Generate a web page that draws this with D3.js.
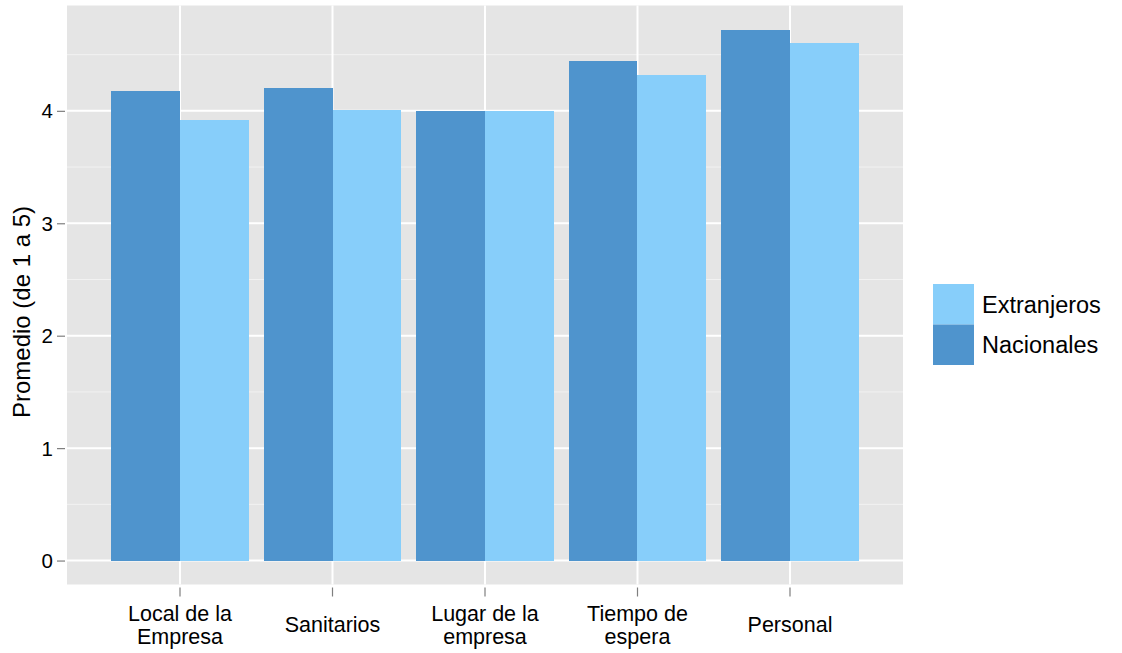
<!DOCTYPE html>
<html>
<head>
<meta charset="utf-8">
<script src="https://cdn.jsdelivr.net/npm/d3@7"></script>
<style>
  html, body { margin: 0; padding: 0; background: #fff; }
  svg { display: block; font-family: "Liberation Sans", Arial, Helvetica, sans-serif; }
</style>
</head>
<body>
<svg id="chart" width="1122" height="653"></svg>
<script>
// ---- data ----
const categories = [["Local de la", "Empresa"], ["Sanitarios"], ["Lugar de la", "empresa"], ["Tiempo de", "espera"], ["Personal"]];
const categoryKeys = ["Local de la Empresa", "Sanitarios", "Lugar de la empresa", "Tiempo de espera", "Personal"];
const seriesNames = ["Nacionales", "Extranjeros"];
const nacionales = [4.18, 4.20, 4.00, 4.44, 4.72];
const extranjeros = [3.92, 4.01, 4.00, 4.32, 4.60];
const yTicks = [0, 1, 2, 3, 4];
const yMinor = [0.5, 1.5, 2.5, 3.5, 4.5];
const legendOrder = ["Extranjeros", "Nacionales"];
const colors = { "Nacionales": "#4F94CD", "Extranjeros": "#87CEFA" };

// ---- layout ----
const panel = { left: 67, right: 903, top: 5.5, bottom: 584.5 };
const svg = d3.select("#chart");

const x = d3.scaleBand()
  .domain(categoryKeys)
  .range([panel.left, panel.right])
  .paddingInner(0.1)
  .paddingOuter(0.291);

const xSub = d3.scaleBand().domain(seriesNames).range([0, x.bandwidth()]).padding(0);

const y = d3.scaleLinear().domain([-0.213, 4.937]).range([panel.bottom, panel.top]);

// panel background
svg.append("rect")
  .attr("x", panel.left).attr("y", panel.top)
  .attr("width", panel.right - panel.left).attr("height", panel.bottom - panel.top)
  .attr("fill", "#E5E5E5");

// minor grid
svg.append("g").selectAll("line").data(yMinor).join("line")
  .attr("x1", panel.left).attr("x2", panel.right)
  .attr("y1", d => y(d)).attr("y2", d => y(d))
  .attr("stroke", "#F2F2F2").attr("stroke-width", 1);

// major grid
svg.append("g").selectAll("line").data(yTicks).join("line")
  .attr("x1", panel.left).attr("x2", panel.right)
  .attr("y1", d => y(d)).attr("y2", d => y(d))
  .attr("stroke", "#FFFFFF").attr("stroke-width", 2);

const cx = d => x(d) + x.bandwidth() / 2;
svg.append("g").selectAll("line").data(categoryKeys).join("line")
  .attr("y1", panel.top).attr("y2", panel.bottom)
  .attr("x1", cx).attr("x2", cx)
  .attr("stroke", "#FFFFFF").attr("stroke-width", 2);

// bars
const rows = categoryKeys.map((c, i) => ({ cat: c, Nacionales: nacionales[i], Extranjeros: extranjeros[i] }));
svg.append("g").selectAll("g").data(rows).join("g")
  .attr("transform", d => `translate(${x(d.cat)},0)`)
  .selectAll("rect")
  .data(d => seriesNames.map(s => ({ s, v: d[s] })))
  .join("rect")
  .attr("x", d => xSub(d.s))
  .attr("width", xSub.bandwidth())
  .attr("y", d => y(d.v))
  .attr("height", d => y(0) - y(d.v))
  .attr("fill", d => colors[d.s])
  .attr("shape-rendering", "crispEdges");

// y axis
const yAxis = d3.axisLeft(y).tickValues(yTicks).tickSize(8).tickPadding(4).tickFormat(d3.format("d"));
const gy = svg.append("g").attr("transform", `translate(${panel.left - 2},0)`).call(yAxis);
gy.select(".domain").remove();
gy.selectAll(".tick line").attr("stroke", "#7F7F7F").attr("stroke-width", 1.2);
gy.selectAll(".tick text").attr("fill", "#000").attr("font-size", "20.5px").attr("dy", "0.34em");

// x axis
const xAxis = d3.axisBottom(x).tickSize(9).tickFormat("");
const gx = svg.append("g").attr("transform", `translate(0,${panel.bottom + 3})`).call(xAxis);
gx.select(".domain").remove();
gx.selectAll(".tick line").attr("stroke", "#7F7F7F").attr("stroke-width", 1.2);
gx.selectAll(".tick").each(function (d, i) {
  const lines = categories[i];
  const t = d3.select(this).append("text")
    .attr("fill", "#000").attr("font-size", "21.5px").attr("text-anchor", "middle");
  const lh = 23;
  const startY = lines.length === 1 ? 37 + 7 : 37 - 4;
  lines.forEach((ln, j) => {
    t.append("tspan").attr("x", 0).attr("y", startY + j * lh).text(ln);
  });
});

// y title
svg.append("text")
  .attr("transform", `translate(30,312) rotate(-90)`)
  .attr("text-anchor", "middle")
  .attr("font-size", "24px")
  .attr("fill", "#000")
  .text("Promedio (de 1 a 5)");

// legend
const keyH = 40.5, keyW = 41;
const lg = svg.append("g").attr("transform", "translate(933,284)");
lg.selectAll("rect").data(legendOrder).join("rect")
  .attr("x", 0).attr("y", (d, i) => i * keyH)
  .attr("width", keyW).attr("height", keyH)
  .attr("fill", d => colors[d]);
lg.selectAll("text").data(legendOrder).join("text")
  .attr("x", 49).attr("y", (d, i) => i * keyH + keyH / 2)
  .attr("dy", "0.36em")
  .attr("font-size", "23.5px").attr("fill", "#000")
  .text(d => d);
</script>
</body>
</html>
